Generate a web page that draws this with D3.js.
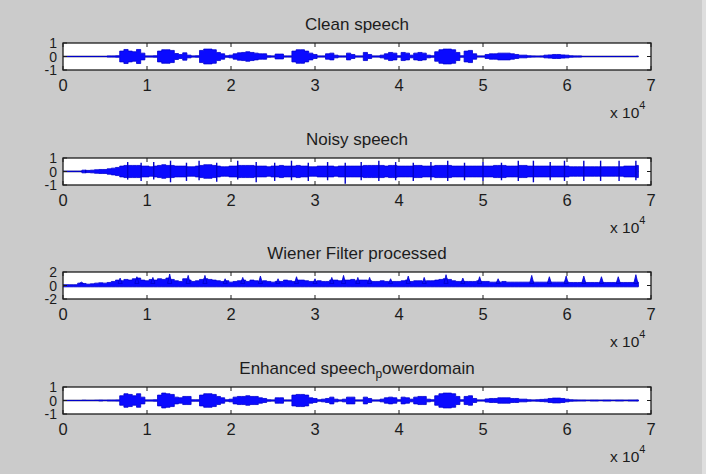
<!DOCTYPE html>
<html>
<head>
<meta charset="utf-8">
<script src="https://cdn.jsdelivr.net/npm/d3@7/dist/d3.min.js"></script>
<style>
  html, body { margin: 0; padding: 0; background: #cbcbcb; }
  svg { display: block; }
</style>
</head>
<body>
<div id="fig"></div>
<script>
// 四个子图：语音波形包络（每 500 个采样点取一个幅度值，读自原图）
const STEP = 500;          // 包络采样间隔
const N_SAMPLES = 68500;   // 信号长度
const X_TICKS = [0, 1, 2, 3, 4, 5, 6, 7];   // × 10^4

const TITLES = ["Clean speech", "Noisy speech", "Wiener Filter processed", "Enhanced speech"];
const Y_TICKS = [[-1, 0, 1], [-1, 0, 1], [-2, 0, 2], [-1, 0, 1]];

const CLEAN = [
  0,0,0,0,0,0,0,0,0,0,0, 0.04,0.04,0.05,
  0.4,0.52,0.4,0.35,0.52,0.25, 0.04,0.04,0.05,
  0.4,0.5,0.5,0.45,0.22,0.15,0.27,0.1, 0.04,0.05,
  0.45,0.55,0.55,0.5,0.3,0.2,0.05,
  0.1,0.2,0.27,0.3,0.35,0.3,0.25,0.2,0.2,0.05,
  0.04,0.18,0.18,0.04,0.04,
  0.4,0.5,0.5,0.4,0.25,0.15,0.04,
  0.04,0.2,0.25,0.1,0.04,0.04,0.25,0.15,0.04,0.04,0.3,0.15,0.04,0.04,0.1,
  0.2,0.3,0.25,0.05,
  0.3,0.25,0.1,0.25,0.3,0.25,0.1,0.05,
  0.35,0.5,0.55,0.55,0.5,0.3,0.05,
  0.4,0.45,0.2,0.04,
  0.04,0.15,0.2,0.2,0.25,0.25,0.25,0.2,0.15,0.1,0.1,0.05,0.04,0.03,0.04,0.1,
  0.12,0.15,0.15,0.12,0.1,0.05,0.04,0.04,
  0,0,0,0,0,0,0,0,0,0,0,0,0, 0.02
];

const NOISY = [
  0.02,0.02,0.02,0.02,0.02, 0.1,0.08,0.1,0.13,0.15,0.15,0.2,0.25,0.3,0.4,0.45,0.45,0.45,0.45,0.4,
  0.4,0.35,0.4,0.45,0.5,0.45,0.45,0.4,0.4,0.4,0.35,0.35,0.4,0.45,0.5,0.5,0.45,0.4,0.35,0.35,
  0.4,0.4,0.45,0.45,0.45,0.45,0.4,0.4,0.4,0.35,
  0.4,0.4,0.45,0.4,0.4,0.4,0.45,0.4,0.4,0.35,
  0.35,0.4,0.4,0.4,0.4,0.35,0.4,0.4,0.4,0.4,
  0.4,0.4,0.45,0.45,0.45,0.45,0.45,0.4,0.45,0.45,
  0.4,0.4,0.4,0.4,0.45,0.45,0.4,0.4,0.4,0.45,
  0.45,0.45,0.45,0.4,0.4,0.4,0.4,0.4,0.4,0.4,
  0.4,0.4,0.4,0.45,0.45,0.45,0.4,0.4,0.4,0.45,
  0.45,0.4,0.4,0.4,0.4,0.4,0.4,0.4,0.4,0.4,
  0.4,0.35,0.35,0.35,0.35,0.35,0.35,0.35,0.35,0.35,
  0.35,0.35,0.35,0.35,0.4,0.4,0.4,0.45
];
// 噪声尖峰：[位置 ×10^4, 上沿, 下沿]
const NOISY_SPIKES = [
  [0.27,0.12,-0.1],[0.77,0.7,-0.6],[0.93,0.65,-0.7],[1.08,0.7,-0.6],[1.28,0.8,-0.8],[1.47,0.65,-0.7],
  [1.62,0.8,-0.65],[1.83,0.65,-0.75],[2.08,0.8,-0.6],[2.30,0.7,-0.8],[2.52,0.65,-0.7],[2.72,0.8,-0.65],
  [2.92,0.65,-0.7],[3.15,0.7,-0.65],[3.36,0.65,-0.9],[3.55,0.7,-0.65],[3.76,0.8,-0.7],[3.96,0.7,-0.65],
  [4.17,0.65,-0.7],[4.38,0.7,-0.65],[4.58,0.8,-0.7],[4.78,0.65,-0.65],[5.00,0.7,-0.7],[5.22,0.65,-0.65],
  [5.42,0.8,-0.7],[5.60,0.8,-0.8],[5.80,0.7,-0.65],[5.97,0.8,-0.7],[6.20,0.8,-0.7],[6.40,0.8,-0.7],
  [6.62,0.8,-0.7],[6.82,0.8,-0.65]
];

const WIENER = [
  0.1,0.1,0.1,0.1, 0.35,0.3,0.2,0.25,0.35,0.4,0.35,0.45,0.6,0.8,0.7,0.9,0.8,1.0,1.1,0.8,
  0.7,0.9,0.8,1.0,0.9,1.1,0.9,0.7,0.6,1.0,0.8,0.6,0.7,0.9,1.0,0.9,0.8,0.7,0.6,0.7,
  0.5,0.6,0.7,0.8,0.6,0.8,0.7,0.6,0.7,0.6,
  0.5,0.6,0.6,0.8,0.7,0.6,0.8,0.8,0.7,0.6,
  0.6,0.7,0.6,0.6,0.8,0.8,0.7,0.8,0.8,0.9,
  0.7,0.8,0.8,0.7,0.6,0.6,0.7,0.6,0.6,0.6,
  0.6,0.7,0.8,0.6,0.7,0.7,0.6,0.7,0.7,0.8,
  0.9,1.0,0.9,0.7,0.6,0.6,0.6,0.6,0.6,0.7,
  0.6,0.6,0.5,0.5,0.5,0.6,0.5,0.5,0.5,0.5,
  0.5,0.5,0.5,0.5,0.5,0.5,0.5,0.5,0.5,0.5,
  0.5,0.45,0.45,0.45,0.45,0.45,0.45,0.45,0.45,0.45,
  0.45,0.45,0.45,0.45,0.45,0.45,0.45,0.5
];
const WIENER_FLOOR = -0.2;
// 维纳滤波输出的尖峰：[位置 ×10^4, 峰值]
const WIENER_PEAKS = [
  [0.22,0.5],[0.68,1.1],[0.88,1.3],[1.07,1.2],[1.27,1.7],[1.49,1.5],[1.69,1.5],[1.93,1.0],
  [2.14,1.2],[2.35,1.4],[2.56,1.0],[2.78,1.3],[3.00,1.0],[3.20,1.2],[3.34,1.5],[3.51,1.2],
  [3.65,1.2],[3.90,1.0],[4.11,1.4],[4.30,1.2],[4.56,1.6],[4.76,1.1],[4.96,1.3],[5.18,1.0],
  [5.58,1.5],[5.79,1.3],[5.99,1.4],[6.20,1.4],[6.41,1.3],[6.61,1.3],[6.82,1.6]
];

const ENHANCED = [
  0,0,0,0,0, 0.02,0.01,0.01,0.02,0.03,0.02,0.03,0.03,0.04,
  0.35,0.5,0.45,0.35,0.5,0.25, 0.04,0.04,0.05,
  0.4,0.55,0.5,0.45,0.25,0.2,0.3,0.3,0.05,0.05,
  0.4,0.5,0.5,0.45,0.3,0.2,0.05,
  0.1,0.25,0.3,0.3,0.35,0.3,0.3,0.2,0.15,0.05,
  0.04,0.2,0.2,0.04,0.04,
  0.4,0.45,0.45,0.4,0.2,0.15,0.05,
  0.1,0.15,0.25,0.1,0.04,0.1,0.25,0.25,0.04,0.04,0.25,0.15,0.04,0.04,0.1,
  0.2,0.25,0.2,0.05,
  0.25,0.2,0.1,0.25,0.3,0.3,0.1,0.05,
  0.35,0.5,0.55,0.55,0.5,0.3,0.05,
  0.3,0.35,0.15,0.04,
  0.04,0.12,0.15,0.15,0.2,0.2,0.2,0.15,0.15,0.1,0.1,0.05,0.04,0.05,0.08,0.1,
  0.15,0.18,0.18,0.15,0.1,0.05,0.04,0.03,
  0.03,0.02,0.03,0.03,0.02,0.03,0.03,0.02,0.03,0.03,0.02,0.03,0.03,0.04
];

(() => {
  const W = 706, H = 474;
  const ML = 63, MR = 651, AH = 27;
  const TOPS = [43, 158, 272, 387];
  const INK = "#1c1c1c", BLUE = "#0a0aff", DARK = "#14145a";
  const FONT = "Arial, 'Liberation Sans', Helvetica, sans-serif";

  const svg = d3.select("#fig").append("svg").attr("width", W).attr("height", H);
  svg.append("rect").attr("width", W).attr("height", H).attr("fill", "#cbcbcb");
  svg.append("rect").attr("x", 702).attr("width", W - 702).attr("height", H).attr("fill", "#dedede");

  const x = d3.scaleLinear().domain([0, 70000]).range([ML, MR]);
  const SERIES = [CLEAN, NOISY, WIENER, ENHANCED];

  SERIES.forEach((vals, k) => {
    const top = TOPS[k], bot = top + AH;
    const yt = Y_TICKS[k];
    const y = d3.scaleLinear().domain([yt[0], yt[2]]).range([bot, top]);
    const g = svg.append("g");

    g.append("rect").attr("x", ML).attr("y", top).attr("width", MR - ML).attr("height", AH).attr("fill", "#fff");

    const clipId = "clip" + k;
    svg.append("clipPath").attr("id", clipId)
      .append("rect").attr("x", ML).attr("y", top).attr("width", MR - ML).attr("height", AH);
    const data = g.append("g").attr("clip-path", `url(#${clipId})`);

    // 零线
    data.append("line").attr("x1", x(0)).attr("x2", x(N_SAMPLES))
      .attr("y1", y(0)).attr("y2", y(0)).attr("stroke", DARK).attr("stroke-width", 1.3);

    const lo = k === 2 ? () => WIENER_FLOOR : d => -d;
    const area = d3.area()
      .x((d, i) => x(i * STEP))
      .y0(d => y(d > 0.02 ? lo(d) : 0))
      .y1(d => y(d))
      .curve(d3.curveStep);
    data.append("path").datum(vals).attr("d", area)
      .attr("fill", BLUE).attr("stroke", "#0000d0").attr("stroke-width", 0.8);

    if (k === 1) {
      data.selectAll("line.spk").data(NOISY_SPIKES).join("line")
        .attr("x1", d => x(d[0] * 1e4)).attr("x2", d => x(d[0] * 1e4))
        .attr("y1", d => y(d[1])).attr("y2", d => y(d[2]))
        .attr("stroke", "#0000c8").attr("stroke-width", 1.4);
    }
    if (k === 2) {
      data.selectAll("path.pk").data(WIENER_PEAKS).join("path")
        .attr("d", d => `M${x(d[0] * 1e4 - 250)},${y(0.3)} L${x(d[0] * 1e4)},${y(d[1])} L${x(d[0] * 1e4 + 250)},${y(0.3)} Z`)
        .attr("fill", BLUE).attr("stroke", "#0000c8").attr("stroke-width", 0.8);
    }

    // 刻度（向内，四边）
    X_TICKS.forEach(t => {
      const xx = x(t * 1e4);
      g.append("line").attr("x1", xx).attr("x2", xx).attr("y1", top).attr("y2", top + 4).attr("stroke", INK);
      g.append("line").attr("x1", xx).attr("x2", xx).attr("y1", bot).attr("y2", bot - 4).attr("stroke", INK);
      g.append("text").attr("x", xx).attr("y", bot + 21).attr("text-anchor", "middle")
        .attr("style", `font:16.5px ${FONT};fill:${INK}`).text(t);
    });
    yt.forEach(t => {
      const yy = y(t);
      g.append("line").attr("x1", ML).attr("x2", ML + 4).attr("y1", yy).attr("y2", yy).attr("stroke", INK);
      g.append("line").attr("x1", MR).attr("x2", MR - 4).attr("y1", yy).attr("y2", yy).attr("stroke", INK);
      g.append("text").attr("x", 57).attr("y", yy + 5).attr("text-anchor", "end")
        .attr("style", `font:14px ${FONT};fill:${INK}`).text(t);
    });

    g.append("rect").attr("x", ML).attr("y", top).attr("width", MR - ML).attr("height", AH)
      .attr("fill", "none").attr("stroke", INK).attr("stroke-width", 1.3);

    // 标题
    const tt = g.append("text").attr("x", (ML + MR) / 2).attr("y", top - 13).attr("text-anchor", "middle")
      .attr("style", `font:17px ${FONT};fill:${INK}`).text(TITLES[k]);
    if (k === 3) {
      tt.append("tspan").attr("dy", 4).attr("style", "font-size:12px").text("p");
      tt.append("tspan").attr("dy", -4).text("owerdomain");
    }

    // × 10^4
    const ex = g.append("text").attr("x", 610).attr("y", bot + 48)
      .attr("style", `font:15.5px ${FONT};fill:${INK}`).text("x 10");
    ex.append("tspan").attr("dy", -9).attr("style", "font-size:11px").text("4");
  });
})();
</script>
</body>
</html>
